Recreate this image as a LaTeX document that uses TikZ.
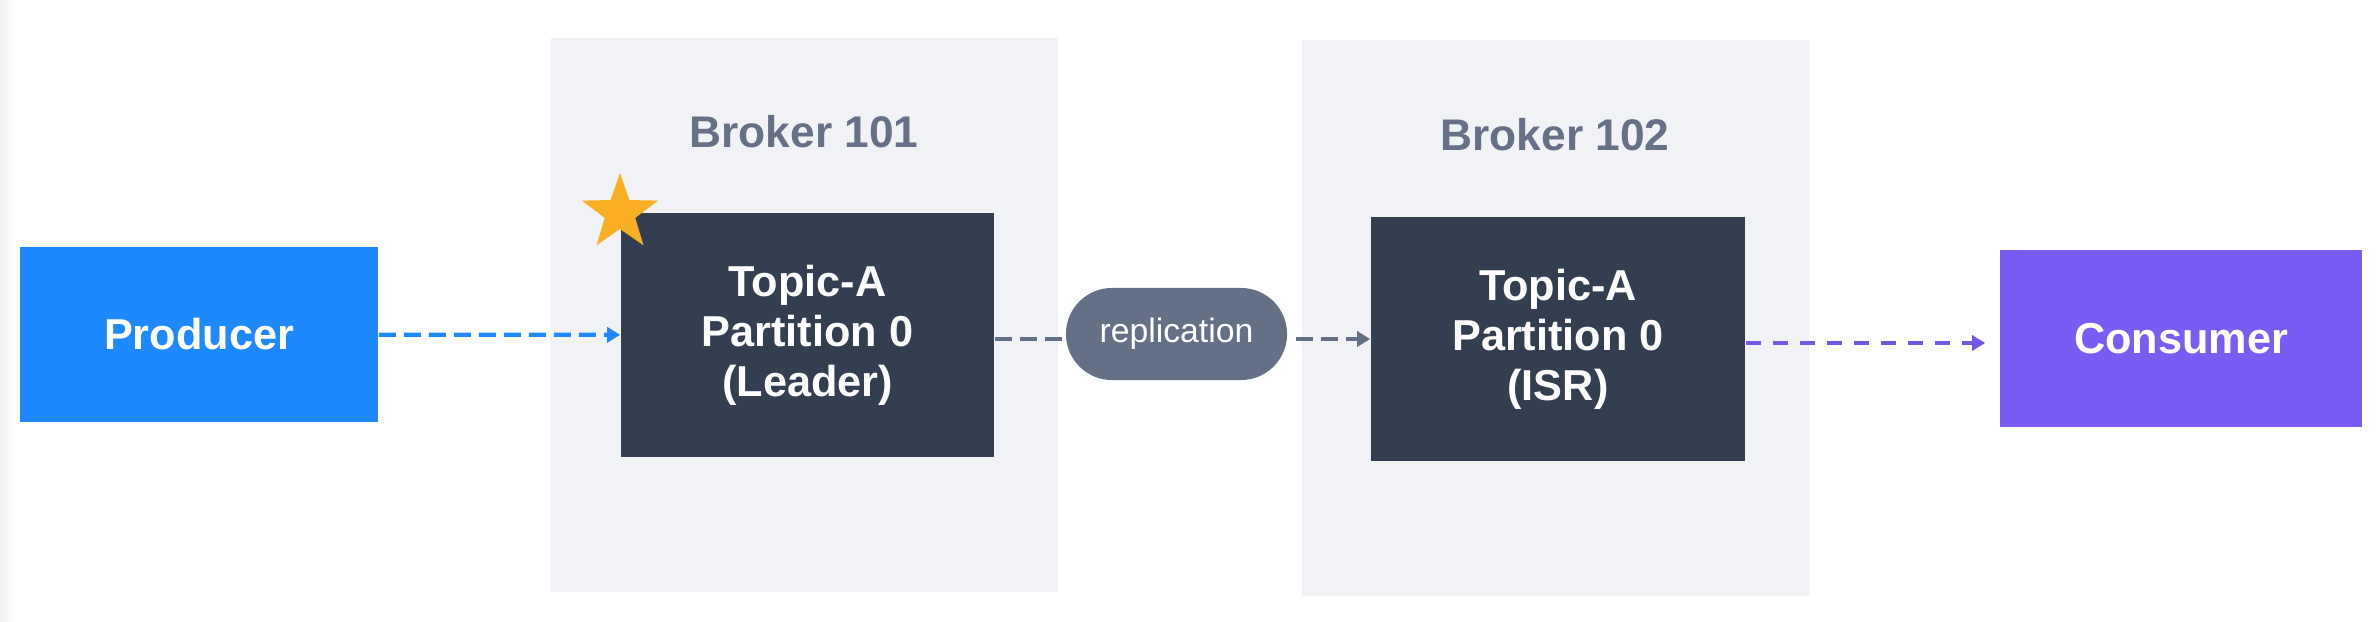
\documentclass[tikz,border=0pt]{standalone}
\usepackage{fontspec}
\setmainfont{Liberation Sans}
\usepackage{tikz}
\usetikzlibrary{shapes.geometric, arrows.meta}

\definecolor{prodblue}{HTML}{1E88FE}
\definecolor{consviolet}{HTML}{7A5CF4}
\definecolor{flowviolet}{HTML}{7457E6}
\definecolor{brokerbg}{HTML}{F1F2F5}
\definecolor{partdark}{HTML}{333F50}
\definecolor{replgray}{HTML}{647085}
\definecolor{titlegray}{HTML}{667187}
\definecolor{leaderstar}{HTML}{F9AE24}
\definecolor{edgegray}{HTML}{F1F1F2}

\begin{document}
\begin{tikzpicture}[x=0.01cm, y=-0.01cm,
    box/.style={rectangle, text=white, align=center, inner sep=0pt,
        font=\bfseries\fontsize{12.3}{14.2}\selectfont},
    flow/.style={line width=1.2pt, dash pattern=on 0.17cm off 0.08cm,
        -{Triangle[length=0.13cm, width=0.15cm]}}]
    \useasboundingbox (0, 0) rectangle (2378, 622);
    \shade[left color=edgegray, right color=white] (0, 0) rectangle (16, 622);

    % Brokers (background panels)
    \fill[brokerbg] (551, 38) rectangle (1058, 592);
    \fill[brokerbg] (1302, 40) rectangle (1809, 596);
    \node[text=titlegray, font=\bfseries\fontsize{12.6}{14}\selectfont] (b101) at (804, 132) {Broker 101};
    \node[text=titlegray, font=\bfseries\fontsize{12.6}{14}\selectfont] (b102) at (1555, 135) {Broker 102};

    % Producer and consumer
    \node[box, fill=prodblue, minimum width=3.58cm, minimum height=1.75cm] (prod) at (199, 334.5) {Producer};
    \node[box, fill=consviolet, minimum width=3.62cm, minimum height=1.77cm] (cons) at (2181, 338.5) {Consumer};

    % Partitions
    \node[box, fill=partdark, minimum width=3.73cm, minimum height=2.44cm] (lead) at (807.5, 335) {Topic-A\\Partition 0\\(Leader)};
    \node[box, fill=partdark, minimum width=3.74cm, minimum height=2.44cm] (isr) at (1558, 339) {Topic-A\\Partition 0\\(ISR)};

    % Leader star
    \node[star, star points=5, star point ratio=2.5, fill=leaderstar, minimum size=0.8cm, inner sep=0pt] (star) at (620, 213) {};

    % Replication
    \node[rectangle, rounded corners=0.46cm, fill=replgray, text=white, minimum width=2.21cm, minimum height=0.92cm,
        font=\fontsize{9.6}{12}\selectfont] (repl) at (1176.5, 334) {replication};

    % Arrows
    \draw[flow, prodblue] (prod) -- (lead);
    \draw[flow, replgray, -] (lead.east |- isr) -- (repl.west |- isr);
    \draw[flow, replgray, shorten <=0.08cm] (repl.east |- isr) -- (isr.west);
    \draw[flow, flowviolet, dash pattern=on 0.15cm off 0.12cm, shorten >=0.14cm]
        ([yshift=-0.04cm]isr.east) -- ([yshift=-0.04cm]isr.east -| cons.west);
\end{tikzpicture}
\end{document}
